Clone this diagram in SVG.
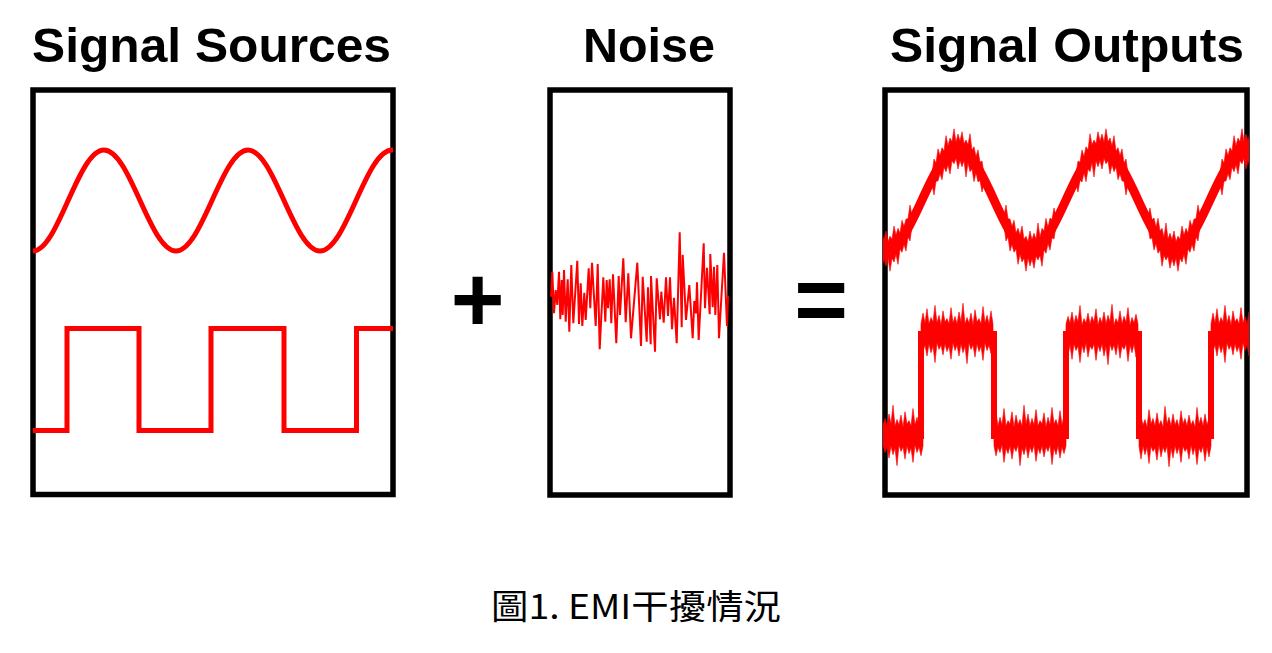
<svg xmlns="http://www.w3.org/2000/svg" width="1272" height="653" viewBox="0 0 1272 653">
<style>
.box{fill:none;stroke:#000;stroke-width:5.5}
.wave{fill:none;stroke:#ff0000;stroke-linejoin:miter}
.jag{fill:#ff0000;stroke:#ff0000;stroke-width:0.6;stroke-linejoin:miter}
.title{font-family:"Liberation Sans",Arial,sans-serif;font-weight:bold;font-size:48px;fill:#000}
.op{font-family:"Liberation Sans",Arial,sans-serif;font-weight:bold;font-size:92px;fill:#000}
.cap{font-family:"Noto Sans CJK TC","Noto Sans",sans-serif;font-size:34px;fill:#000}
</style>
<defs>
<path id="strip" class="jag" d="M0,-9 L2,-19 L4,-10 L6,-23 L8,-9 L10,-15 L12,-11 L14,-26 L16,-10 L18,-17 L20,-8 L22,-21 L24,-11 L26,-14 L28,-9 L30,-24 L32,-10 L34,-16 L36,-9 L38,-20 L40,-11 L42,-28 L44,-9 L46,-15 L48,-10 L50,-19 L52,-8 L54,-22 L56,-11 L58,-14 L60,-9 L62,-25 L64,-10 L66,-17 L68,-9 L70,-21 L72,-9 L72,9 L70,18 L68,10 L66,15 L64,8 L62,24 L60,11 L58,16 L56,9 L54,21 L52,10 L50,14 L48,8 L46,27 L44,11 L42,17 L40,9 L38,20 L36,10 L34,15 L32,8 L30,23 L28,11 L26,16 L24,9 L22,19 L20,10 L18,14 L16,8 L14,26 L12,11 L10,17 L8,9 L6,20 L4,10 L2,16 L0,9 Z"/>
<path id="cap" class="jag" d="M-26,23.9 L-24,9 L-22,13.3 L-20,-1.1 L-18,5.6 L-16,-2.3 L-14,1 L-12,-14.3 L-10,-4.3 L-8,-12 L-6,-8.3 L-4,-21.2 L-2,-7.8 L0,-16 L2,-8.8 L4,-18.2 L6,-6.3 L8,-10 L10,-5.3 L12,-16.3 L14,0 L16,-3.3 L18,6.6 L20,-0.1 L22,12.3 L24,11 L26,23.9 L26,33.9 L24,42 L22,30.3 L20,31.9 L18,22.6 L16,31.7 L14,19 L12,21.7 L10,12.7 L8,27 L6,10.7 L4,16.8 L2,10.2 L0,19 L-2,8.2 L-4,13.8 L-6,10.7 L-8,24 L-10,14.7 L-12,21.7 L-14,17 L-16,29.7 L-18,23.6 L-20,30.9 L-22,31.3 L-24,45 L-26,33.9 Z"/>
<clipPath id="outClip">
<rect x="883" y="92" width="366" height="400"/>
</clipPath>
</defs>

<g id="signal-sources">
<text class="title" x="32" y="62" textLength="359" lengthAdjust="spacingAndGlyphs">Signal Sources</text>
<rect class="box" x="33" y="90" width="360" height="404.5"/>
<path class="wave" stroke-width="5" d="M33,251 C58.2,251 77.8,150 104,150 S149.8,251 176,251 S221.8,150 248,150 S293.8,251 320,251 S365.8,150 392,150 L393,150"/>
<path class="wave" stroke-width="5" d="M33,430.5 H67 V328.5 H139 V430.5 H211 V328.5 H284 V430.5 H356.5 V328.5 H393"/>
</g>

<g id="plus">
<text class="op" x="477.5" y="331" text-anchor="middle">+</text>
</g>

<g id="noise">
<text class="title" x="583" y="62" textLength="132" lengthAdjust="spacingAndGlyphs">Noise</text>
<rect class="box" x="550" y="90" width="180" height="405"/>
<polyline class="wave" stroke-width="2" points="551.0,296.7 552.3,271.7 554.0,313.3 555.7,290.0 557.3,305.0 559.0,271.7 560.3,319.3 561.7,280.0 562.7,315.0 564.0,270.0 565.7,321.7 567.7,279.3 569.3,331.7 571.3,265.0 573.3,323.3 577.3,260.7 579.0,324.0 580.7,283.3 582.3,326.0 584.3,292.7 585.7,320.0 588.7,268.3 590.3,308.3 592.0,262.7 595.7,326.0 597.7,264.0 599.7,349.3 603.3,277.3 605.3,321.7 606.7,280.0 608.0,308.3 609.7,279.3 611.3,323.3 613.0,274.3 616.3,343.3 618.7,276.0 620.0,315.0 623.3,258.3 625.7,322.3 628.3,273.3 631.0,338.3 637.3,262.7 641.0,346.0 642.7,276.7 646.7,341.7 648.0,287.3 650.7,344.3 651.0,276.0 655.0,351.7 656.7,278.3 660.0,319.3 661.3,291.7 663.7,322.7 666.0,277.3 668.0,316.0 670.0,277.3 672.0,329.3 674.0,297.7 676.7,343.3 679.7,232.3 681.7,327.3 682.7,254.7 686.0,320.0 689.3,285.0 692.7,338.3 694.3,301.0 696.0,313.3 697.0,282.3 698.7,340.0 703.7,243.3 705.0,308.3 707.0,267.7 709.7,314.3 710.3,254.0 712.7,307.3 714.0,266.7 715.3,315.0 717.3,265.0 719.0,338.3 724.0,252.7 727.0,326.0 728.0,296.0"/>
</g>

<g id="equals">
<text class="op" x="821" y="331" text-anchor="middle">=</text>
</g>

<g id="signal-outputs">
<text class="title" x="890" y="62" textLength="354" lengthAdjust="spacingAndGlyphs">Signal Outputs</text>
<rect class="box" x="885" y="90" width="362" height="405"/>
<g clip-path="url(#outClip)">
<path class="wave" stroke-width="9" d="M886,250 C912.2,250 931.8,150 958,150 S1003.8,250 1030,250 S1075.8,150 1102,150 S1147.8,250 1174,250 S1219.8,150 1246,150"/>
<use href="#cap" transform="translate(886,250) scale(-1,-1)"/>
<use href="#cap" transform="translate(958,150)"/>
<use href="#cap" transform="translate(1030,250) scale(1,-1)"/>
<use href="#cap" transform="translate(1102,150) scale(-1,1)"/>
<use href="#cap" transform="translate(1174,250) scale(-1,-1)"/>
<use href="#cap" transform="translate(1246,150)"/>
<path class="wave" stroke-width="6" d="M887,436 H921 V334 H994 V436 H1066 V334 H1139 V436 H1211 V334 H1245"/>
<use href="#strip" transform="translate(851,436) scale(1,1.1)"/>
<use href="#strip" transform="translate(921,334) scale(1,1.1)"/>
<use href="#strip" transform="translate(1066,436) scale(-1,1.1)"/>
<use href="#strip" transform="translate(1066,334) scale(1,-1.1)"/>
<use href="#strip" transform="translate(1211,436) scale(-1,-1.1)"/>
<use href="#strip" transform="translate(1211,334) scale(1,1.1)"/>
</g>
</g>

<g id="caption">
<text class="cap" x="491" y="619" textLength="290" lengthAdjust="spacingAndGlyphs">圖1. EMI干擾情況</text>
</g>
</svg>
